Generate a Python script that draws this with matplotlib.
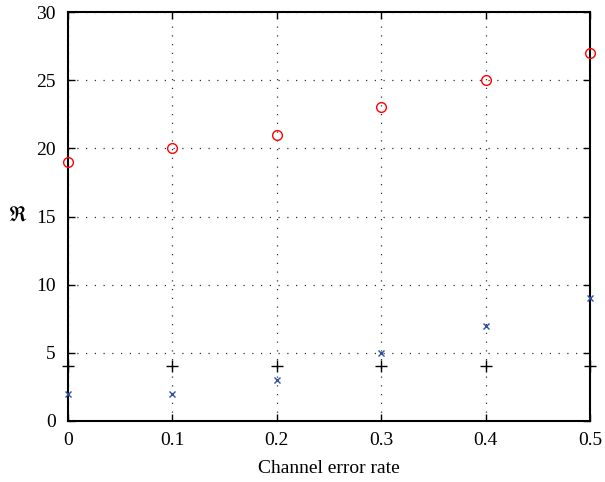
import matplotlib
matplotlib.use('Agg')
import matplotlib.pyplot as plt

# dati
error_rate = [0, 0.1, 0.2, 0.3, 0.4, 0.5]
red_circles = [19, 20, 21, 23, 25, 27]
blue_cross = [2, 2, 3, 5, 7, 9]
black_plus = [4, 4, 4, 4, 4, 4]

plt.rcParams['font.family'] = ['Liberation Serif', 'DejaVu Serif']
plt.rcParams['mathtext.fontset'] = 'stix'

fig = plt.figure(figsize=(6.05, 4.82), dpi=100)
ax = fig.add_axes([0.1124, 0.1266, 0.8626, 0.8484])

ax.plot(error_rate, red_circles, 'o', mfc='none', mec='red', ms=7, mew=1.0, clip_on=False, zorder=3)
ax.plot(error_rate, blue_cross, 'x', color='#2f4fa8', ms=5, mew=1.0, clip_on=False, zorder=3)
ax.plot(error_rate, black_plus, '+', color='black', ms=9, mew=1.0, clip_on=False, zorder=3)

ax.set_xlim(0, 0.5)
ax.set_ylim(0, 30)
ax.set_xticks([0, 0.1, 0.2, 0.3, 0.4, 0.5])
ax.set_xticklabels(['0', '0.1', '0.2', '0.3', '0.4', '0.5'])
ax.set_yticks(range(0, 31, 5))

ax.grid(True, color='#333333', linestyle=(0, (1, 6)), linewidth=0.9)
ax.tick_params(direction='in', top=True, right=True, labelsize=14, length=5, width=1)
ax.tick_params(axis='x', pad=8)
ax.tick_params(axis='y', pad=9)
for s in ax.spines.values():
    s.set_linewidth(1.5)

ax.set_xlabel('Channel error rate', fontsize=14, labelpad=8)
ax.set_ylabel(r'$\mathfrak{R}$', fontsize=15, rotation=0, labelpad=6.5, ha='right', va='center')

plt.savefig('out.png', dpi=100)
